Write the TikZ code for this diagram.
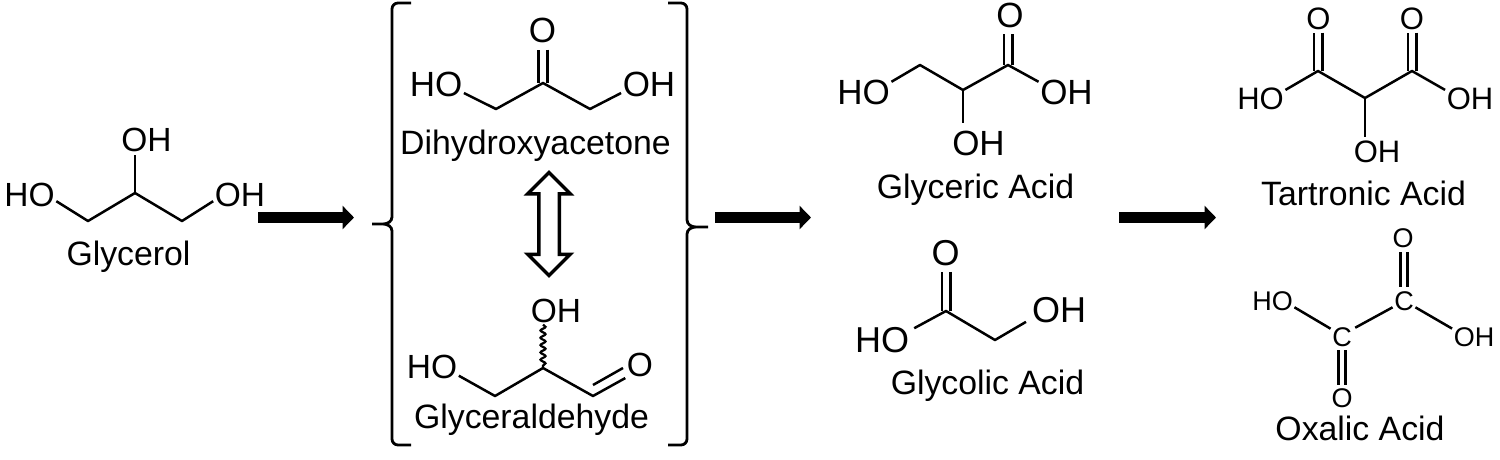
\documentclass[tikz,border=0pt]{standalone}
\usepackage{fontspec}
\setmainfont{Liberation Sans}
\usetikzlibrary{arrows.meta,decorations.pathmorphing,shapes.arrows}

\begin{document}
\begin{tikzpicture}[x=1pt,y=-1pt,
    atom/.style={inner sep=1.5pt,font=\fontsize{#1}{#1}\selectfont},
    atom/.default=33.5,
    lbl/.style={anchor=base,inner sep=0pt,font=\fontsize{33.8}{36}\selectfont},
    bond/.style={line width=2.5pt},
    dbond/.style={bond,double,double distance=#1},
    dbond/.default=6pt,
    wavy/.style={line width=2.2pt,decorate,decoration={snake,amplitude=2.5pt,segment length=7.3pt}},
    bracket/.style={line width=2.8pt},
    arj/.style={line width=11pt,-{Triangle[length=11.5pt,width=23pt]}},
    dblarj/.style={double arrow,draw,rotate=90,line width=3.5pt,inner sep=8.5pt,
        double arrow head extend=11pt,minimum height=103pt}]
\useasboundingbox (0,0) rectangle (1500,459);

\node[atom] (glyHOl) at (29.5,195) {HO};
\node[atom] (glyOHr) at (240,195) {OH};
\node[atom] (glyOHt) at (146.5,140) {OH};
\node[lbl] (glyName) at (128.5,265) {Glycerol};
\coordinate (glyC1) at (88,221);
\coordinate (glyC2) at (135,193);
\coordinate (glyC3) at (182,221);
\draw[bond,line join=round] (glyHOl.-13) -- (glyC1) -- (glyC2) -- (glyC3) -- (glyOHr.193);
\draw[bond,shorten >=1.5pt] (glyC2) -- (glyOHt.south -| glyC2);

\coordinate (arjAs) at (258,217.5);
\coordinate (arjAe) at (354,217.5);
\draw[arj] (arjAs) -- (arjAe);

\draw[bracket] (411,3) -- (398,3) to[out=180,in=90] (392,9) -- (392,217)
    to[out=-90,in=0] (383,224) -- (372,224) -- (383,224) to[out=0,in=90] (392,231) -- (392,439)
    to[out=-90,in=180] (398,445) -- (411,445);
\draw[bracket] (668,3) -- (681,3) to[out=0,in=90] (687,9) -- (687,220)
    to[out=-90,in=180] (696,227) -- (708,227) -- (696,227) to[out=180,in=90] (687,234) -- (687,439)
    to[out=-90,in=0] (681,445) -- (668,445);

\node[atom=35] (dhaHO) at (436,84.5) {HO};
\node[atom=35] (dhaOH) at (649,84.5) {OH};
\node[atom=35] (dhaO) at (542.5,30.5) {O};
\node[lbl] (dhaName) at (535.5,154) {Dihydroxyacetone};
\coordinate (dhaC1) at (496,109);
\coordinate (dhaC2) at (543,83);
\coordinate (dhaC3) at (590,109);
\draw[dbond=6.5pt,shorten <=5pt] (dhaO.south -| dhaC2) -- (dhaC2);
\draw[bond,line join=round] (dhaHO.-17) -- (dhaC1) -- (dhaC2) -- (dhaC3) -- (dhaOH.197);

\node[dblarj] (dhaArj) at (549,224) {};

\node[atom] (grdHO) at (432,367) {HO};
\node[atom] (grdOH) at (556,311) {OH};
\node[atom] (grdO) at (640,364.5) {O};
\node[lbl] (grdName) at (531.5,428) {Glyceraldehyde};
\coordinate (grdC1) at (495,396);
\coordinate (grdC2) at (543,368);
\coordinate (grdC3) at (593,396);
\coordinate (grdC3b) at (593,385);
\coordinate (grdOb) at (623,368);
\draw[bond,line join=round] (grdHO.-18) -- (grdC1) -- (grdC2) -- (grdC3) -- (grdO.south west);
\draw[bond] (grdC3b) -- (grdOb);
\draw[wavy] (grdOH.south -| grdC2) -- (grdC2);

\coordinate (arjBs) at (715,217.5);
\coordinate (arjBe) at (811,217.5);
\draw[arj] (arjBs) -- (arjBe);

\node[atom=35] (gaHO) at (863.5,92.5) {HO};
\node[atom=35] (gaOHr) at (1066.5,92.5) {OH};
\node[atom=35] (gaOHb) at (978.5,143) {OH};
\node[atom=35] (gaO) at (1010,15.5) {O};
\node[lbl] (gaName) at (975.5,198) {Glyceric Acid};
\coordinate (gaC1) at (920,65);
\coordinate (gaC2) at (963,90);
\coordinate (gaC3) at (1008,65);
\draw[dbond,shorten <=4.5pt] (gaO.south -| gaC3) -- (gaC3);
\draw[bond,line join=round] (gaHO.21) -- (gaC1) -- (gaC2) -- (gaC3) -- (gaOHr.159);
\draw[bond,shorten >=6pt] (gaC2) -- (gaOHb.north -| gaC2);

\node[atom=36] (glcHO) at (882,340) {HO};
\node[atom=36] (glcOH) at (1059,310) {OH};
\node[atom=36] (glcO) at (945.5,253) {O};
\node[lbl] (glcName) at (987.5,394) {Glycolic Acid};
\coordinate (glcC1) at (946,311);
\coordinate (glcC2) at (995,340);
\draw[dbond,shorten <=4.5pt] (glcO.south -| glcC1) -- (glcC1);
\draw[bond,line join=round,shorten <=4pt,shorten >=5pt] (glcHO.19) -- (glcC1) -- (glcC2) -- (glcOH.198);

\coordinate (arjCs) at (1119,217.5);
\coordinate (arjCe) at (1216,217.5);
\draw[arj] (arjCs) -- (arjCe);

\node[atom=31] (taHO) at (1260.5,98.5) {HO};
\node[atom=31] (taOHr) at (1470,98.5) {OH};
\node[atom=31] (taOHb) at (1377,152) {OH};
\node[atom=31] (taOl) at (1318.5,18.5) {O};
\node[atom=31] (taOr) at (1412,18.5) {O};
\node[lbl] (taName) at (1363.5,205) {Tartronic Acid};
\coordinate (taC1) at (1318,71);
\coordinate (taC2) at (1365,98);
\coordinate (taC3) at (1412,71);
\draw[dbond,shorten <=1.5pt] (taOl.south -| taC1) -- (taC1);
\draw[dbond,shorten <=1.5pt] (taOr.south -| taC3) -- (taC3);
\draw[bond,line join=round] (taHO.19) -- (taC1) -- (taC2) -- (taC3) -- (taOHr.161);
\draw[bond,shorten >=2pt] (taC2) -- (taOHb.north -| taC2);

\node[atom=27] (oxHO) at (1272.5,301) {HO};
\node[atom=27] (oxOH) at (1474,337) {OH};
\node[atom=27] (oxCu) at (1404,301.5) {C};
\node[atom=27] (oxCl) at (1342,337) {C};
\node[atom=27] (oxOt) at (1403,238.5) {O};
\node[atom=27] (oxOb) at (1342,398.5) {O};
\node[lbl] (oxName) at (1360,440) {Oxalic Acid};
\draw[bond] (oxHO.-16) -- (oxCl.144);
\draw[bond,shorten <=2pt] (oxCl.36) -- (oxCu.207);
\draw[bond] (oxCu.-27) -- (oxOH.159);
\draw[dbond=4.5pt,shorten <=2.5pt,shorten >=3.5pt] (oxOt.south -| oxCu.north) -- (oxCu.north);
\draw[dbond=4.5pt,shorten <=2pt,shorten >=2.5pt] (oxCl.south) -- (oxOb.north);
\end{tikzpicture}
\end{document}
